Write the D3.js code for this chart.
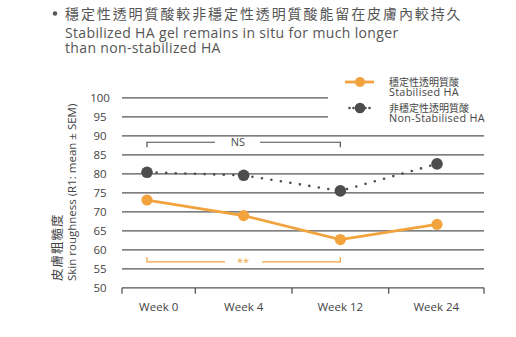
<!DOCTYPE html>
<html>
<head>
<meta charset="utf-8">
<script src="https://cdn.jsdelivr.net/npm/d3@7"></script>
<style>
  html, body { margin: 0; padding: 0; background: #fff; }
  svg { display: block; }
  text, tspan { font-family: "Open Sans", "Noto Sans", "Noto Sans CJK TC", sans-serif; }
  .cjk { font-family: "Noto Sans CJK TC", "Noto Sans", sans-serif; }
</style>
</head>
<body>
<svg id="chart" width="516" height="337"></svg>
<script>
// Time points and skin roughness (R1 mean) per product
const weeks = ["Week 0", "Week 4", "Week 12", "Week 24"];
const stabilised = [73.1, 69.0, 62.7, 66.7];
const nonStabilised = [80.4, 79.6, 75.5, 82.6];
const yTicks = [50, 55, 60, 65, 70, 75, 80, 85, 90, 95, 100];

const titleZh = "穩定性透明質酸較非穩定性透明質酸能留在皮膚內較持久";
const titleEn = ["Stabilized HA gel remains in situ for much longer", "than non-stabilized HA"];
const legendZh = ["穩定性透明質酸", "非穩定性透明質酸"];
const legendEn = ["Stabilised HA", "Non-Stabilised HA"];
const yTitleZh = "皮膚粗糙度";
const yTitleEn = "Skin roughness (R1: mean ± SEM)";

const ORANGE = "#f2a33e";
const DARK = "#4d4d4d";
const GRID = "#555555";
const TEXT = "#555555";

const svg = d3.select("#chart");

// Plot frame
const left = 122, right = 484;
const x = d3.scalePoint().domain(weeks).range([147, 437]);
const y = d3.scaleLinear().domain([50, 100]).range([287.8, 97.8]);

// Heading
svg.append("circle").attr("cx", 55).attr("cy", 13.5).attr("r", 2.2).attr("fill", "#555");
svg.append("text").attr("class", "cjk")
  .attr("x", 65).attr("y", 18.5)
  .attr("font-size", 14).attr("fill", TEXT)
  .attr("letter-spacing", 1.9)
  .text(titleZh);
const sub = svg.append("text")
  .attr("x", 65).attr("y", 37.8)
  .attr("font-size", 14).attr("fill", TEXT)
  .attr("letter-spacing", 0.35);
sub.selectAll("tspan").data(titleEn).join("tspan")
  .attr("x", 65).attr("dy", (d, i) => i === 0 ? 0 : 15.6)
  .text(d => d);

// Horizontal gridlines; top two stop short to leave room for the legend
svg.append("g").selectAll("line").data(yTicks.filter(t => t > 50)).join("line")
  .attr("x1", left)
  .attr("x2", d => d >= 95 ? 328 : right)
  .attr("y1", d => y(d)).attr("y2", d => y(d))
  .attr("stroke", GRID).attr("stroke-width", 1.3);

// Y tick labels
svg.append("g").selectAll("text").data(yTicks).join("text")
  .attr("x", 100).attr("y", d => y(d) + 4)
  .attr("text-anchor", "middle")
  .attr("font-size", 11.5).attr("fill", "#444")
  .text(d => d);

// X axis: baseline with dividers halfway between time points
const pos = weeks.map(w => x(w));
const dividers = [left, ...pos.slice(1).map((p, i) => (p + pos[i]) / 2), right];
const axisG = svg.append("g");
axisG.append("line")
  .attr("x1", left).attr("x2", right)
  .attr("y1", y(50)).attr("y2", y(50))
  .attr("stroke", GRID).attr("stroke-width", 1.3);
axisG.selectAll("line.tick").data(dividers).join("line")
  .attr("class", "tick")
  .attr("x1", d => d).attr("x2", d => d)
  .attr("y1", y(50)).attr("y2", y(50) + 6)
  .attr("stroke", GRID).attr("stroke-width", 1.3);
axisG.selectAll("text").data(weeks).join("text")
  .attr("x", (d, i) => (dividers[i] + dividers[i + 1]) / 2)
  .attr("y", 311)
  .attr("text-anchor", "middle")
  .attr("font-size", 11.5).attr("fill", "#444")
  .text(d => d);

// Y axis title (two rotated lines, bottom aligned)
const yTitle = svg.append("g").attr("transform", "translate(0,281) rotate(-90)");
yTitle.append("text").attr("class", "cjk")
  .attr("x", 0).attr("y", 62)
  .attr("font-size", 12.5).attr("fill", "#444")
  .attr("letter-spacing", 1)
  .text(yTitleZh);
yTitle.append("text")
  .attr("x", 0).attr("y", 76)
  .attr("font-size", 11.5).attr("fill", "#444")
  .text(yTitleEn);

// Significance brackets
function bracket(cls, x0, x1, yy, dir, gapL, gapR, label, color, labelX) {
  const g = svg.append("g").attr("class", cls);
  const path = d3.path();
  path.moveTo(x0, yy + dir * 5); path.lineTo(x0, yy); path.lineTo(gapL, yy);
  path.moveTo(gapR, yy); path.lineTo(x1, yy); path.lineTo(x1, yy + dir * 5);
  g.append("path").attr("d", path.toString())
    .attr("fill", "none").attr("stroke", color).attr("stroke-width", 1.2);
  g.append("text").attr("x", labelX).attr("y", yy + 4)
    .attr("text-anchor", "middle").attr("font-size", 11).attr("fill", color)
    .text(label);
}
const xa = x("Week 0"), xb = x("Week 12");
bracket("ns", xa, xb, y(88.3), 1, 215, 260, "NS", DARK, 238);
bracket("sig", xa, xb, y(56.8), -1, 225, 262, "**", ORANGE, 243);

// Series lines
const line = d3.line().x((d, i) => x(weeks[i])).y(d => y(d));

svg.append("path").datum(nonStabilised)
  .attr("d", line)
  .attr("fill", "none").attr("stroke", DARK)
  .attr("stroke-width", 2.6).attr("stroke-linecap", "round")
  .attr("stroke-dasharray", "0 9.6");
svg.append("g").selectAll("circle").data(nonStabilised).join("circle")
  .attr("cx", (d, i) => x(weeks[i])).attr("cy", d => y(d))
  .attr("r", 5.8).attr("fill", DARK);

svg.append("path").datum(stabilised)
  .attr("d", line)
  .attr("fill", "none").attr("stroke", ORANGE).attr("stroke-width", 2.8);
svg.append("g").selectAll("circle").data(stabilised).join("circle")
  .attr("cx", (d, i) => x(weeks[i])).attr("cy", d => y(d))
  .attr("r", 5.6).attr("fill", ORANGE);

// Legend
const legend = svg.append("g");
legend.append("line").attr("x1", 345).attr("x2", 374).attr("y1", 82).attr("y2", 82)
  .attr("stroke", ORANGE).attr("stroke-width", 2.8);
legend.append("circle").attr("cx", 360).attr("cy", 82).attr("r", 5).attr("fill", ORANGE);
legend.append("line").attr("x1", 349.5).attr("x2", 371).attr("y1", 108).attr("y2", 108)
  .attr("stroke", DARK).attr("stroke-width", 2.6).attr("stroke-linecap", "round")
  .attr("stroke-dasharray", "0 4");
legend.append("circle").attr("cx", 360).attr("cy", 108).attr("r", 5.3).attr("fill", DARK);

// Each legend label: Chinese name over English name, in one text element
legendZh.forEach((zh, i) => {
  const t = legend.append("text")
    .attr("x", 389).attr("y", 85.5 + i * 26)
    .attr("fill", "#444");
  t.append("tspan").attr("class", "cjk")
    .attr("x", 389).attr("font-size", 10)
    .text(zh);
  t.append("tspan")
    .attr("x", 389).attr("dy", 10.5)
    .attr("font-size", 10.8).attr("letter-spacing", 0.3)
    .text(legendEn[i]);
});
</script>
</body>
</html>
